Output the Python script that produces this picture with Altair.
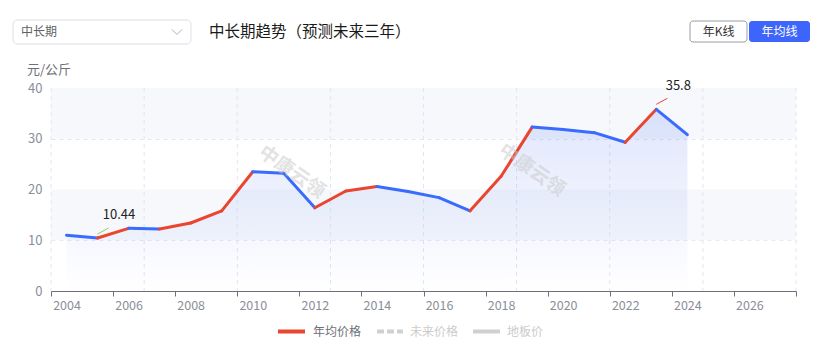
import altair as alt
import pandas as pd

# ---------------- data ----------------
years = [2004, 2005, 2006, 2007, 2008, 2009, 2010, 2011, 2012, 2013, 2014,
         2015, 2016, 2017, 2018, 2019, 2020, 2021, 2022, 2023, 2024]
prices = [11.0, 10.44, 12.35, 12.2, 13.4, 15.8, 23.5, 23.2, 16.4, 19.7, 20.6,
          19.6, 18.4, 15.8, 22.6, 32.3, 31.8, 31.2, 29.3, 35.8, 30.8]

x_tick_values = [2003.5, 2005.5, 2007.5, 2009.5, 2011.5, 2013.5, 2015.5,
                 2017.5, 2019.5, 2021.5, 2023.5, 2025.5, 2027.5]
x_grid_values = [2003.5, 2006.5, 2009.5, 2012.5, 2015.5, 2018.5, 2021.5,
                 2024.5, 2027.5]
y_tick_values = [0, 10, 20, 30, 40]
band_low = [10, 30]
band_high = [20, 40]

legend_names = ["年均价格", "未来价格", "地板价"]
watermark_text = "中康云领"
y_unit = "元/公斤"
title_text = "中长期趋势（预测未来三年）"
dropdown_text = "中长期"
button_texts = ["年K线", "年均线"]

# ---------------- style ----------------
W, H = 745, 203
RED = "#e9452f"
BLUE = "#3a6bff"
FONT = "Noto Sans CJK SC"
GRID = "#e0e6f1"
LABEL = "#8b8e98"

xscale = alt.Scale(domain=[2003.5, 2027.5], nice=False, zero=False)
yscale = alt.Scale(domain=[0, 40], nice=False)

xaxis = alt.Axis(values=x_tick_values, title=None, grid=False,
                 labelExpr="datum.value > 2027 ? '' : format(datum.value + 0.5, 'd')",
                 labelOffset=15.5, labelFlush=False, labelOverlap=False,
                 domainColor="#6e7079", tickColor="#6e7079", tickSize=5,
                 labelColor=LABEL, labelFontSize=12.5, labelFont=FONT,
                 labelPadding=3, zindex=1)
yaxis = alt.Axis(values=y_tick_values, title=None, grid=True, gridColor=GRID,
                 gridDash=[4, 4], domain=False, ticks=False, labelPadding=9,
                 labelColor=LABEL, labelFontSize=13, labelFont=FONT)


def X(field):
    return alt.X(field, type="quantitative", scale=xscale, axis=xaxis)


def Y(field):
    return alt.Y(field, type="quantitative", scale=yscale, axis=yaxis)


one = pd.DataFrame({"k": [0]})

# background bands
bands = pd.DataFrame({"lo": band_low, "hi": band_high})
band_layer = alt.Chart(bands).mark_rect(fill="#f6f8fc").encode(
    x=alt.value(0), x2=alt.value(W), y=Y("lo"), y2="hi")

# vertical grid
vg = pd.DataFrame({"g": x_grid_values})
vgrid_layer = alt.Chart(vg).mark_rule(stroke=GRID, strokeDash=[4, 4]).encode(
    x=X("g"), y=alt.value(0), y2=alt.value(H))

# area
df = pd.DataFrame({"year": years, "price": prices})
grad = alt.Gradient(gradient="linear",
                    stops=[alt.GradientStop(color="rgba(70,110,240,0.17)", offset=0),
                           alt.GradientStop(color="rgba(70,110,240,0.0)", offset=1)],
                    x1=0, x2=0, y1=0, y2=1)
area_layer = alt.Chart(df).mark_area(color=grad).encode(x=X("year"), y=Y("price"))

# line segments colored by direction
rows = []
for i in range(len(years) - 1):
    d = "up" if prices[i + 1] >= prices[i] else "down"
    rows.append({"year": years[i], "price": prices[i], "seg": i, "dir": d})
    rows.append({"year": years[i + 1], "price": prices[i + 1], "seg": i, "dir": d})
seg = pd.DataFrame(rows)
line_layer = alt.Chart(seg).mark_line(strokeWidth=3, strokeCap="round").encode(
    x=X("year"), y=Y("price"),
    color=alt.Color("dir:N", scale=alt.Scale(domain=["up", "down"], range=[RED, BLUE]),
                    legend=None),
    detail="seg:N")

# min / max annotations
imin = prices.index(min(prices))
imax = prices.index(max(prices))
ann_min = pd.DataFrame({"year": [years[imin]], "price": [prices[imin]],
                        "label": [f"{prices[imin]:g}"]})
ann_max = pd.DataFrame({"year": [years[imax]], "price": [prices[imax]],
                        "label": [f"{prices[imax]:g}"]})
min_rule = alt.Chart(ann_min).mark_rule(color="#8fd14f", strokeWidth=1,
                                        yOffset=-4, x2Offset=11, y2Offset=-10).encode(
    x=X("year"), x2="year", y=Y("price"), y2="price")
max_rule = alt.Chart(ann_max).mark_rule(color=RED, strokeWidth=1,
                                        yOffset=-5, x2Offset=11, y2Offset=-11).encode(
    x=X("year"), x2="year", y=Y("price"), y2="price")
min_text = alt.Chart(ann_min).mark_text(dx=21.5, dy=-23, fontSize=13, font=FONT,
                                        color="#222").encode(
    x=X("year"), y=Y("price"), text="label:N")
max_text = alt.Chart(ann_max).mark_text(dx=22, dy=-23.5, fontSize=13, font=FONT,
                                        color="#222").encode(
    x=X("year"), y=Y("price"), text="label:N")

# watermarks
wm = []
for (px, py) in [(241, 84), (481, 82)]:
    wm.append(alt.Chart(one).mark_text(text=watermark_text, angle=35, fontSize=19,
                                       fontWeight="bold", font=FONT, color="#c8c8c8",
                                       opacity=0.5).encode(
        x=alt.value(px), y=alt.value(py)))

# y unit
unit_layer = alt.Chart(one).mark_text(text=y_unit, fontSize=13, font=FONT,
                                      color="#6e7079").encode(
    x=alt.value(-2), y=alt.value(-18))

# top UI
dd_box = alt.Chart(one).mark_rect(fill="white", stroke="#dcdfe6", cornerRadius=4,
                                  strokeWidth=1).encode(
    x=alt.value(-38), x2=alt.value(140), y=alt.value(-68), y2=alt.value(-44))
dd_text = alt.Chart(one).mark_text(text=dropdown_text, align="left", baseline="middle",
                                   fontSize=12, font=FONT, color="#606266").encode(
    x=alt.value(-30), y=alt.value(-56))
dd_chev = alt.Chart(one).mark_point(shape="M-1,-0.5L0,0.5L1,-0.5", size=100,
                                    filled=False, stroke="#b0b4bc", strokeWidth=1,
                                    opacity=1).encode(
    x=alt.value(126), y=alt.value(-56))
title_layer = alt.Chart(one).mark_text(text=title_text, align="left", baseline="middle",
                                       fontSize=15.5, font=FONT, color="#1a1a1a").encode(
    x=alt.value(158), y=alt.value(-56))
b1_box = alt.Chart(one).mark_rect(fill="white", stroke="#9a9da5", cornerRadius=3,
                                  strokeWidth=1).encode(
    x=alt.value(639), x2=alt.value(696), y=alt.value(-67), y2=alt.value(-46))
b1_text = alt.Chart(one).mark_text(text=button_texts[0], baseline="middle",
                                   fontSize=12, font=FONT, color="#333").encode(
    x=alt.value(667.5), y=alt.value(-56.5))
b2_box = alt.Chart(one).mark_rect(fill="#3d64fb", cornerRadius=3).encode(
    x=alt.value(698), x2=alt.value(759), y=alt.value(-67), y2=alt.value(-46))
b2_text = alt.Chart(one).mark_text(text=button_texts[1], baseline="middle",
                                   fontSize=12, font=FONT, color="white").encode(
    x=alt.value(728.5), y=alt.value(-56.5))

# legend
LY = 243.5
leg = []
leg.append(alt.Chart(one).mark_rule(color=RED, strokeWidth=4).encode(
    x=alt.value(227), x2=alt.value(254), y=alt.value(LY)))
leg.append(alt.Chart(one).mark_text(text=legend_names[0], align="left", baseline="middle",
                                    fontSize=12, font=FONT, color="#6e7079").encode(
    x=alt.value(262), y=alt.value(LY)))
leg.append(alt.Chart(one).mark_rule(color="#d0d0d0", strokeWidth=4, strokeDash=[7, 3]).encode(
    x=alt.value(326), x2=alt.value(352), y=alt.value(LY)))
leg.append(alt.Chart(one).mark_text(text=legend_names[1], align="left", baseline="middle",
                                    fontSize=12, font=FONT, color="#cccccc").encode(
    x=alt.value(359), y=alt.value(LY)))
leg.append(alt.Chart(one).mark_rule(color="#d0d0d0", strokeWidth=4).encode(
    x=alt.value(422), x2=alt.value(449), y=alt.value(LY)))
leg.append(alt.Chart(one).mark_text(text=legend_names[2], align="left", baseline="middle",
                                    fontSize=12, font=FONT, color="#cccccc").encode(
    x=alt.value(456), y=alt.value(LY)))

chart = alt.layer(
    band_layer, vgrid_layer, area_layer, line_layer,
    min_rule, max_rule, min_text, max_text, *wm, unit_layer,
    dd_box, dd_text, dd_chev, title_layer, b1_box, b1_text, b2_box, b2_text,
    *leg
).properties(
    width=W, height=H,
    autosize=alt.AutoSizeParams(type="none"),
    padding={"left": 43, "top": 80, "right": 15, "bottom": 58},
).configure_view(stroke=None)

chart.save("out.html", embed_options={"renderer": "svg", "actions": False})
